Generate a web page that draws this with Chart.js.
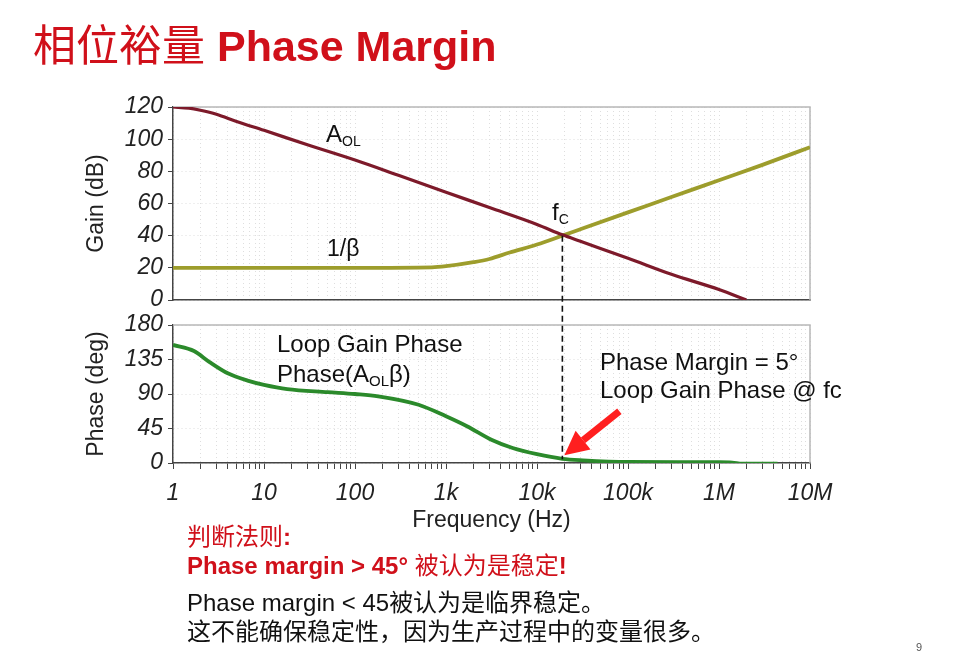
<!DOCTYPE html>
<html>
<head>
<meta charset="utf-8">
<script src="https://cdn.jsdelivr.net/npm/chart.js@4.4.1/dist/chart.umd.min.js"></script>
<style>
  html, body { margin: 0; padding: 0; background: #fff; }
  #page { position: relative; width: 966px; height: 654px; overflow: hidden;
          font-family: "Liberation Sans", Arial, "Noto Sans CJK SC", sans-serif; }
  canvas { position: absolute; left: 0; top: 0; }
  .txt { position: absolute; white-space: nowrap; line-height: 30px; }
  .title { left: 33px; top: 17px; font-size: 43px; line-height: 50px; color: #d0101a; }
  .title .cn { font-family: "Noto Sans CJK SC", sans-serif; font-weight: 400; }
  .title .en { font-weight: bold; }
  .note { left: 187px; font-size: 24px; color: #111; }
  .note.red { color: #d0101a; }
  .bold { font-weight: bold; }
  .reg { font-weight: normal; }
  .pageno { left: 916px; top: 632px; font-size: 11px; color: #555; }
</style>
</head>
<body>
<div id="page">
  <canvas id="gainChart" width="966" height="654"></canvas>
  <canvas id="phaseChart" width="966" height="654"></canvas>

  <div class="txt title"><span class="cn">相位裕量</span> <span class="en">Phase Margin</span></div>
  <div class="txt note red" style="top:522px;">判断法则<span class="bold">:</span></div>
  <div class="txt note red bold" style="top:551px;">Phase margin &gt; 45° <span class="reg">被认为是稳定</span>!</div>
  <div class="txt note" style="top:588px;">Phase margin &lt; 45被认为是临界稳定。</div>
  <div class="txt note" style="top:617px;">这不能确保稳定性，因为生产过程中的变量很多。</div>
  <div class="txt pageno">9</div>
</div>

<script>
// Frequency axis
const freqTicks = [1, 10, 100, 1e3, 1e4, 1e5, 1e6, 1e7];
const freqLabels = ['1', '10', '100', '1k', '10k', '100k', '1M', '10M'];
const gainTicks = [0, 20, 40, 60, 80, 100, 120];
const phaseTicks = [0, 45, 90, 135, 180];

// Open loop gain A_OL (dB)
const aolFreq = [1, 1.5, 2, 3, 5, 10, 30, 100, 300, 1000, 3000, 10000, 19000, 30000, 100000, 300000, 1000000, 2000000];
const aolGain = [120, 119.3, 118, 115.5, 111, 105.5, 96.5, 87, 77.5, 67, 57.5, 47, 40.5, 36.5, 26, 16, 6.5, 0];

// Feedback 1/beta (dB)
const betaFreq = [1, 10, 100, 700, 1000, 2000, 3000, 5000, 10000, 19000, 30000, 100000, 300000, 1000000, 3000000, 10000000];
const betaGain = [20, 20, 20, 20.3, 21, 23.5, 25.5, 29.5, 34.5, 40, 44, 54.5, 64, 74.5, 84, 95];

// Loop gain phase (deg)
const phaseFreq = [1, 1.7, 2.5, 4, 6.6, 10, 18, 50, 100, 180, 500, 1000, 1700, 3200, 5400, 10000, 19000, 32000, 100000, 1000000, 1400000, 1800000, 4400000];
const phaseDeg = [154, 146, 132, 117, 107.5, 102, 96.5, 92.5, 90, 87, 76, 61, 48, 30, 19.5, 11.5, 5.5, 3.5, 1.3, 1, 0.5, -1, -1];

// crossover frequency fc
const fcFreq = 19000;
const fcGain = 40;
const fcPhase = 5;

const FONT = '"Liberation Sans", Arial, sans-serif';
const GRID = '#dedede';
const AXIS = '#444';

const toPoints = (xs, ys) => xs.map((x, i) => ({ x: x, y: ys[i] }));

// minor log ticks: 1..9 per decade
const logTicks = () => {
  const out = [];
  freqTicks.forEach((d, i) => {
    for (let m = 1; m <= 9; m++) {
      if (i === freqTicks.length - 1 && m > 1) break;
      out.push({ value: d * m, major: m === 1 });
    }
  });
  return out;
};

// gray frame on top / right
const framePlugin = {
  id: 'frame',
  beforeDatasetsDraw(chart) {
    const { ctx, chartArea: a } = chart;
    ctx.save();
    ctx.strokeStyle = '#b8b8b8';
    ctx.lineWidth = 1.5;
    ctx.beginPath();
    ctx.moveTo(a.left, a.top);
    ctx.lineTo(a.right, a.top);
    ctx.lineTo(a.right, a.bottom);
    ctx.stroke();
    ctx.restore();
  }
};

// text with subscripts: runs = [[text, isSub], ...]
function drawRuns(ctx, x, y, runs, size, subSize) {
  runs.forEach(r => {
    ctx.font = (r[1] ? subSize : size) + 'px ' + FONT;
    ctx.fillText(r[0], x, r[1] ? y + 4 : y);
    x += ctx.measureText(r[0]).width;
  });
}

const gainNotes = {
  id: 'gainNotes',
  afterDatasetsDraw(chart) {
    const ctx = chart.ctx;
    ctx.save();
    ctx.fillStyle = '#111';
    ctx.textBaseline = 'alphabetic';
    drawRuns(ctx, 326, 142, [['A', false], ['OL', true]], 24, 14);
    drawRuns(ctx, 327, 256, [['1/β', false]], 23, 14);
    drawRuns(ctx, 552, 220, [['f', false], ['C', true]], 24, 14);
    ctx.restore();
  }
};

const phaseNotes = {
  id: 'phaseNotes',
  afterDatasetsDraw(chart) {
    const ctx = chart.ctx;
    const x = chart.scales.x;
    const y = chart.scales.y;
    const fcX = x.getPixelForValue(fcFreq);
    const topY = gainChart.scales.y.getPixelForValue(fcGain);
    const botY = y.getPixelForValue(fcPhase);

    ctx.save();
    // dashed line at fc
    ctx.strokeStyle = '#111';
    ctx.lineWidth = 1.6;
    ctx.setLineDash([6, 4]);
    ctx.beginPath();
    ctx.moveTo(fcX, topY);
    ctx.lineTo(fcX, botY);
    ctx.stroke();
    ctx.setLineDash([]);

    // red arrow pointing to phase at fc
    const tipX = fcX + 2, tipY = botY - 4;
    const tailX = tipX + 55, tailY = tipY - 44;
    const ang = Math.atan2(tipY - tailY, tipX - tailX);
    const headLen = 24, headW = 12;
    const bx = tipX - headLen * Math.cos(ang), by = tipY - headLen * Math.sin(ang);
    ctx.strokeStyle = '#ff1f1f';
    ctx.fillStyle = '#ff1f1f';
    ctx.lineWidth = 7;
    ctx.beginPath();
    ctx.moveTo(tailX, tailY);
    ctx.lineTo(bx, by);
    ctx.stroke();
    ctx.beginPath();
    ctx.moveTo(tipX, tipY);
    ctx.lineTo(bx + headW * Math.sin(ang), by - headW * Math.cos(ang));
    ctx.lineTo(bx - headW * Math.sin(ang), by + headW * Math.cos(ang));
    ctx.closePath();
    ctx.fill();

    ctx.fillStyle = '#111';
    ctx.textBaseline = 'alphabetic';
    drawRuns(ctx, 277, 352, [['Loop Gain Phase', false]], 24, 15);
    drawRuns(ctx, 277, 382, [['Phase(A', false], ['OL', true], ['β)', false]], 24, 15);
    drawRuns(ctx, 600, 370, [['Phase Margin = 5°', false]], 24, 15);
    drawRuns(ctx, 600, 398, [['Loop Gain Phase @ fc', false]], 24, 15);
    ctx.restore();
  }
};

const tickFont = { family: FONT, size: 23, style: 'italic' };
const titleFont = { family: FONT, size: 23 };

// Gain plot
const gainChart = new Chart(document.getElementById('gainChart'), {
  type: 'line',
  data: {
    datasets: [
      {
        label: 'AOL',
        data: toPoints(aolFreq, aolGain),
        borderColor: '#7d1a2a',
        borderWidth: 3.2,
        pointRadius: 0,
        cubicInterpolationMode: 'monotone',
      },
      {
        label: '1/β',
        data: toPoints(betaFreq, betaGain),
        borderColor: '#9d9d2c',
        borderWidth: 3.8,
        pointRadius: 0,
        cubicInterpolationMode: 'monotone',
      }
    ]
  },
  options: {
    responsive: false,
    animation: false,
    layout: { padding: { left: 80, top: 107, right: 156, bottom: 354 } },
    plugins: { legend: { display: false }, tooltip: { enabled: false } },
    scales: {
      x: {
        type: 'logarithmic',
        min: 1,
        max: 1e7,
        afterBuildTicks: s => { s.ticks = logTicks(); },
        afterFit: s => { s.height = 0; },
        ticks: { display: false, autoSkip: false },
        grid: { color: GRID, drawTicks: false },
        border: { color: AXIS, width: 1.5, dash: [1, 3] }
      },
      y: {
        min: 0,
        max: 120,
        afterBuildTicks: s => { s.ticks = gainTicks.map(v => ({ value: v })); },
        afterFit: s => { s.width = 93; },
        ticks: { font: tickFont, color: '#222', padding: 5 },
        grid: { color: GRID, tickColor: AXIS, tickLength: 5 },
        border: { color: AXIS, width: 1.5, dash: [1, 3] },
        title: { display: true, text: 'Gain (dB)', font: titleFont, color: '#222', padding: { top: 3, bottom: 0 } }
      }
    }
  },
  plugins: [framePlugin, gainNotes]
});

// Phase plot
const phaseChart = new Chart(document.getElementById('phaseChart'), {
  type: 'line',
  data: {
    datasets: [
      {
        label: 'Phase',
        data: toPoints(phaseFreq, phaseDeg),
        borderColor: '#2b8a2b',
        borderWidth: 3.8,
        pointRadius: 0,
        cubicInterpolationMode: 'monotone',
      }
    ]
  },
  options: {
    responsive: false,
    animation: false,
    layout: { padding: { left: 80, top: 325, right: 156, bottom: 120 } },
    plugins: { legend: { display: false }, tooltip: { enabled: false } },
    scales: {
      x: {
        type: 'logarithmic',
        min: 1,
        max: 1e7,
        afterBuildTicks: s => { s.ticks = logTicks(); },
        afterFit: s => { s.height = 71; },
        ticks: {
          autoSkip: false,
          maxRotation: 0,
          font: tickFont,
          color: '#222',
          padding: 11,
          callback: val => {
            const i = freqTicks.indexOf(val);
            return i >= 0 ? freqLabels[i] : '';
          }
        },
        grid: { color: GRID, tickColor: AXIS, tickLength: 6 },
        border: { color: AXIS, width: 1.5, dash: [1, 3] },
        title: { display: true, text: 'Frequency (Hz)', font: titleFont, color: '#222', padding: 0 }
      },
      y: {
        min: 0,
        max: 180,
        afterBuildTicks: s => { s.ticks = phaseTicks.map(v => ({ value: v })); },
        afterFit: s => { s.width = 93; },
        ticks: { font: tickFont, color: '#222', padding: 5 },
        grid: { color: GRID, tickColor: AXIS, tickLength: 5 },
        border: { color: AXIS, width: 1.5, dash: [1, 3] },
        title: { display: true, text: 'Phase (deg)', font: titleFont, color: '#222', padding: { top: 3, bottom: 0 } }
      }
    }
  },
  plugins: [framePlugin, phaseNotes]
});
</script>
</body>
</html>
